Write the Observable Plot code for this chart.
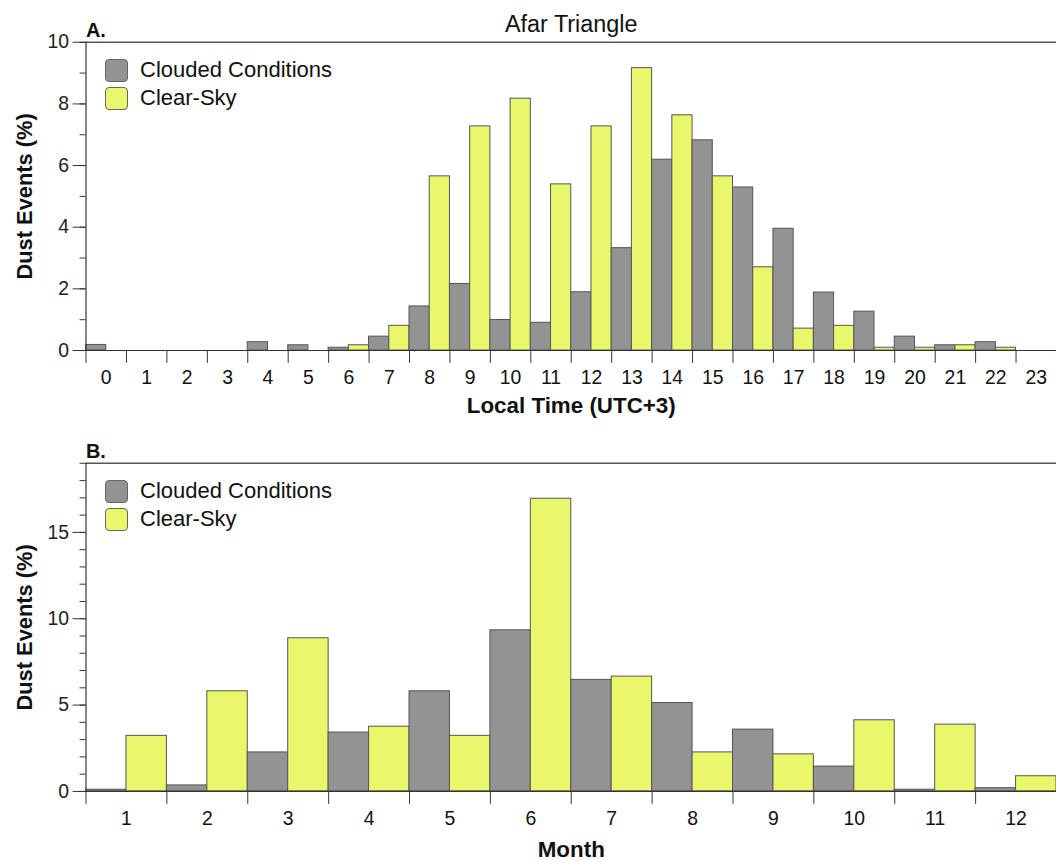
<!DOCTYPE html>
<html>
<head>
<meta charset="utf-8">
<script src="https://cdn.jsdelivr.net/npm/d3@7"></script>
<script src="https://cdn.jsdelivr.net/npm/@observablehq/plot@0.6"></script>
<style>
  html, body { margin: 0; padding: 0; background: #fff; overflow: hidden; }
  #wrap { position: relative; width: 1056px; height: 861px; overflow: hidden; font-family: "Liberation Sans", Arial, Helvetica, sans-serif; }
  .panel { position: absolute; left: 0; }
  .legend { position: absolute; left: 105px; }
  .legend .row { display: flex; align-items: center; height: 28px; }
  .legend .sw { width: 21px; height: 21px; border-radius: 4px; border: 1px solid #666; box-sizing: content-box; margin-right: 12px; }
  .legend .lab { font-size: 22px; color: #111; }
</style>
</head>
<body>
<div id="wrap"></div>
<script>
// ---- data ----
const seriesNames = ["Clouded Conditions", "Clear-Sky"];
const seriesColors = ["#939393", "#e9f76b"];

const hourLabels = ["0","1","2","3","4","5","6","7","8","9","10","11","12","13","14","15","16","17","18","19","20","21","22","23"];
const hourClouded = [0.18,0,0,0,0.27,0.17,0.09,0.45,1.43,2.16,0.99,0.90,1.89,3.32,6.19,6.82,5.29,3.95,1.88,1.26,0.45,0.17,0.27,0];
const hourClear   = [0,0,0,0,0,0,0.17,0.80,5.65,7.27,8.17,5.39,7.27,9.16,7.63,5.65,2.70,0.71,0.80,0.09,0.09,0.17,0.09,0];

const monthLabels = ["1","2","3","4","5","6","7","8","9","10","11","12"];
const monthClouded = [0.10,0.35,2.26,3.41,5.80,9.33,6.46,5.12,3.58,1.44,0.10,0.19];
const monthClear   = [3.22,5.80,8.87,3.75,3.22,16.95,6.65,2.26,2.15,4.12,3.87,0.88];

const hourYMajor = [0,2,4,6,8,10];
const monthYMajor = [0,5,10,15];

const FONT = "'Liberation Sans', Arial, Helvetica, sans-serif";

function panel({labels, clouded, clear, yMax, yMajor, xLabel, tag, title, height, marginTop, marginBottom, xLabelDy}) {
  const n = labels.length;
  const rows = labels.flatMap((lab, i) => [
    {i, series: seriesNames[0], v: clouded[i], k: 0},
    {i, series: seriesNames[1], v: clear[i], k: 1}
  ]).filter(d => d.v > 0);
  const marks = [
    Plot.rectY(rows, {
      x1: d => d.i + d.k * 0.5,
      x2: d => d.i + d.k * 0.5 + 0.5,
      y1: 0, y2: "v",
      fill: "series", stroke: "#555", strokeWidth: 1
    }),
    Plot.ruleY([0], {stroke: "#333", strokeWidth: 1.2}),
    Plot.ruleY([yMax], {stroke: "#555", strokeWidth: 1.4}),
    Plot.ruleX([0], {stroke: "#333", strokeWidth: 1.2}),
    Plot.axisY({ticks: d3.range(0, yMax + 1), tickSize: 6, tickFormat: () => "", label: null, stroke: "#333"}),
    Plot.axisY({ticks: yMajor, tickSize: 13, tickPadding: 4, fontSize: 19.5, label: null, stroke: "#333"}),
    Plot.axisX({ticks: d3.range(0, n + 1), tickSize: 13, tickFormat: () => "", label: null, stroke: "#333"}),
    Plot.text(labels, {x: (d, i) => i + 0.5, frameAnchor: "bottom", lineAnchor: "bottom", dy: 34, fontSize: 19.5, fill: "#111"}),
    Plot.text([xLabel], {frameAnchor: "bottom", lineAnchor: "bottom", dy: xLabelDy, fontSize: 22.5, fontWeight: "bold", fill: "#111"}),
    Plot.text(["Dust Events (%)"], {frameAnchor: "left", textAnchor: "middle", lineAnchor: "middle", rotate: -90, dx: -61, fontSize: 22, fontWeight: "bold", fill: "#111"}),
    Plot.text([tag], {frameAnchor: "top-left", textAnchor: "start", lineAnchor: "bottom", dy: -5, fontSize: 20, fontWeight: "bold", fill: "#111"})
  ];
  if (title) marks.push(Plot.text([title], {frameAnchor: "top", lineAnchor: "bottom", dy: -10, fontSize: 23.5, fill: "#111"}));
  return Plot.plot({
    width: 1062, height,
    marginLeft: 86, marginRight: 0, marginTop, marginBottom,
    x: {domain: [0, n]},
    y: {domain: [0, yMax]},
    color: {domain: seriesNames, range: seriesColors},
    style: {fontFamily: FONT, background: "transparent", color: "#222", overflow: "visible"},
    marks
  });
}

function legend(top) {
  const div = document.createElement("div");
  div.className = "legend";
  div.style.top = top + "px";
  seriesNames.forEach((s, i) => {
    const row = document.createElement("div");
    row.className = "row";
    const sw = document.createElement("div");
    sw.className = "sw";
    sw.style.background = seriesColors[i];
    const lab = document.createElement("div");
    lab.className = "lab";
    lab.textContent = s;
    row.appendChild(sw); row.appendChild(lab);
    div.appendChild(row);
  });
  return div;
}

const wrap = document.getElementById("wrap");

const top1 = panel({labels: hourLabels, clouded: hourClouded, clear: hourClear, yMax: 10, yMajor: hourYMajor,
  xLabel: "Local Time (UTC+3)", tag: "A.", title: "Afar Triangle", height: 430, marginTop: 42, marginBottom: 78, xLabelDy: 63});
top1.classList.add("panel"); top1.style.top = "0px";
wrap.appendChild(top1);

const bot = panel({labels: monthLabels, clouded: monthClouded, clear: monthClear, yMax: 19, yMajor: monthYMajor,
  xLabel: "Month", tag: "B.", title: null, height: 431, marginTop: 33, marginBottom: 68, xLabelDy: 66});
bot.classList.add("panel"); bot.style.top = "430px";
wrap.appendChild(bot);

wrap.appendChild(legend(56));
wrap.appendChild(legend(477));
</script>
</body>
</html>
